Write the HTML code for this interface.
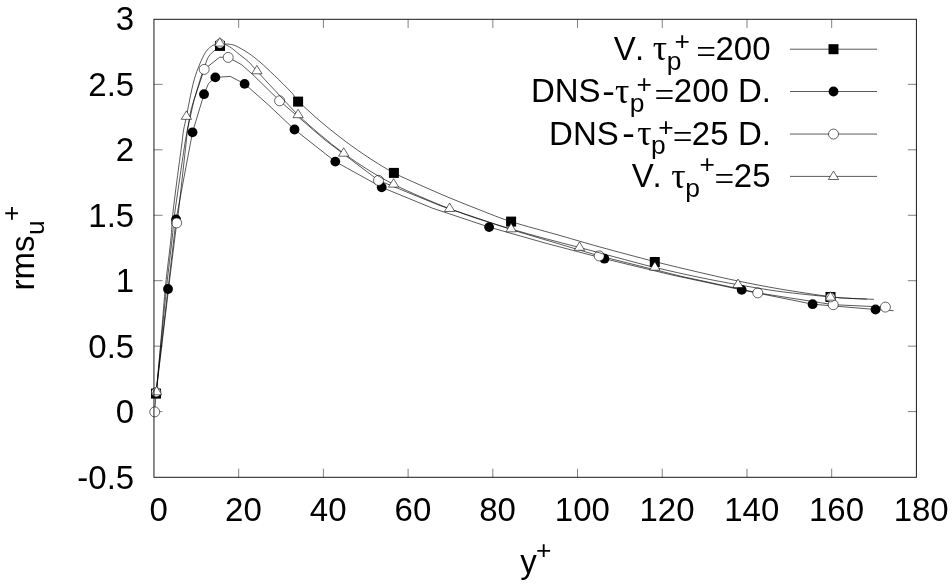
<!DOCTYPE html>
<html lang="en">
<head>
<meta charset="utf-8">
<title>rms u+ versus y+</title>
<style>
html,body{margin:0;padding:0;background:#fff;}
body{width:952px;height:585px;overflow:hidden;}
svg{display:block;filter:blur(0.25px);}
text{white-space:pre;font-kerning:none;}
</style>
</head>
<body>
<svg width="952" height="585" viewBox="0 0 952 585">
<rect x="0" y="0" width="952" height="585" fill="#fff"/>
<g stroke="#000" stroke-width="0.5" fill="none">
<path d="M153.95,411.60h8.6 M916.40,411.60h-8.6"/>
<path d="M153.95,346.15h8.6 M916.40,346.15h-8.6"/>
<path d="M153.95,280.70h8.6 M916.40,280.70h-8.6"/>
<path d="M153.95,215.25h8.6 M916.40,215.25h-8.6"/>
<path d="M153.95,149.80h8.6 M916.40,149.80h-8.6"/>
<path d="M153.95,84.35h8.6 M916.40,84.35h-8.6"/>
<path d="M238.67,477.30v-8.6 M238.67,19.30v8.6"/>
<path d="M323.38,477.30v-8.6 M323.38,19.30v8.6"/>
<path d="M408.10,477.30v-8.6 M408.10,19.30v8.6"/>
<path d="M492.82,477.30v-8.6 M492.82,19.30v8.6"/>
<path d="M577.53,477.30v-8.6 M577.53,19.30v8.6"/>
<path d="M662.25,477.30v-8.6 M662.25,19.30v8.6"/>
<path d="M746.97,477.30v-8.6 M746.97,19.30v8.6"/>
<path d="M831.68,477.30v-8.6 M831.68,19.30v8.6"/>
</g>
<g font-family='"Liberation Sans", Arial, Helvetica, sans-serif' font-size="33.0" fill="#000">
<text x="134.2" y="488.50" text-anchor="end">-0.5</text>
<text x="134.2" y="423.05" text-anchor="end">0</text>
<text x="134.2" y="357.60" text-anchor="end">0.5</text>
<text x="134.2" y="292.15" text-anchor="end">1</text>
<text x="134.2" y="226.70" text-anchor="end">1.5</text>
<text x="134.2" y="161.25" text-anchor="end">2</text>
<text x="134.2" y="95.80" text-anchor="end">2.5</text>
<text x="134.2" y="30.35" text-anchor="end">3</text>
<text x="158.75" y="520.7" text-anchor="middle">0</text>
<text x="243.47" y="520.7" text-anchor="middle">20</text>
<text x="328.18" y="520.7" text-anchor="middle">40</text>
<text x="412.90" y="520.7" text-anchor="middle">60</text>
<text x="497.62" y="520.7" text-anchor="middle">80</text>
<text x="582.33" y="520.7" text-anchor="middle">100</text>
<text x="667.05" y="520.7" text-anchor="middle">120</text>
<text x="751.77" y="520.7" text-anchor="middle">140</text>
<text x="836.48" y="520.7" text-anchor="middle">160</text>
<text x="921.20" y="520.7" text-anchor="middle">180</text>
</g>
<path d="M156.00,393.60 C156.56,388.00 158.29,370.60 159.34,360.00 C160.39,349.40 161.08,342.50 162.32,330.00 C163.56,317.50 165.19,300.00 166.80,285.00 C168.41,270.00 170.72,251.67 172.00,240.00 C173.28,228.33 173.25,225.00 174.50,215.00 C175.75,205.00 177.80,191.67 179.50,180.00 C181.20,168.33 183.38,153.33 184.70,145.00 C186.02,136.67 186.38,135.67 187.40,130.00 C188.42,124.33 189.70,116.00 190.80,111.00 C191.90,106.00 192.87,103.83 194.00,100.00 C195.13,96.17 196.30,92.27 197.60,88.00 C198.90,83.73 200.70,77.73 201.80,74.40 C202.90,71.07 203.35,70.40 204.20,68.00 C205.05,65.60 205.95,62.20 206.90,60.00 C207.85,57.80 208.55,56.45 209.90,54.80 C211.25,53.15 213.32,51.58 215.00,50.10 C216.68,48.62 218.33,46.90 220.00,45.90 C221.67,44.90 223.50,44.38 225.00,44.10 C226.50,43.82 227.23,43.92 229.00,44.20 C230.77,44.48 232.37,44.32 235.60,45.80 C238.83,47.28 244.33,50.38 248.40,53.10 C252.47,55.82 255.65,58.37 260.00,62.10 C264.35,65.83 269.28,70.47 274.50,75.50 C279.72,80.53 287.37,88.07 291.30,92.30 C295.23,96.53 293.32,96.12 298.10,100.90 C302.88,105.68 312.18,114.32 320.00,121.00 C327.82,127.68 336.67,134.75 345.00,141.00 C353.33,147.25 361.85,153.18 370.00,158.50 C378.15,163.82 385.57,168.48 393.90,172.90 C402.23,177.32 410.65,180.82 420.00,185.00 C429.35,189.18 440.00,193.83 450.00,198.00 C460.00,202.17 469.82,206.07 480.00,210.00 C490.18,213.93 497.77,217.35 511.10,221.60 C524.43,225.85 545.18,231.27 560.00,235.50 C574.82,239.73 584.20,242.65 600.00,247.00 C615.80,251.35 638.13,257.35 654.80,261.60 C671.47,265.85 686.13,269.27 700.00,272.50 C713.87,275.73 724.67,278.25 738.00,281.00 C751.33,283.75 764.58,286.38 780.00,289.00 C795.42,291.62 818.83,295.15 830.50,296.70 C842.17,298.25 842.77,297.86 850.00,298.30 C857.23,298.74 869.92,299.18 873.90,299.35" fill="none" stroke="#000" stroke-width="0.65" stroke-linejoin="round"/>
<rect x="151.00" y="388.60" width="10.0" height="10.0" fill="#000"/>
<rect x="215.00" y="40.90" width="10.0" height="10.0" fill="#000"/>
<rect x="293.10" y="96.60" width="10.0" height="10.0" fill="#000"/>
<rect x="388.90" y="167.90" width="10.0" height="10.0" fill="#000"/>
<rect x="506.10" y="216.60" width="10.0" height="10.0" fill="#000"/>
<rect x="649.80" y="257.00" width="10.0" height="10.0" fill="#000"/>
<rect x="825.50" y="292.00" width="10.0" height="10.0" fill="#000"/>
<path d="M156.00,393.00 L168.00,289.00 L176.10,219.50 L190.10,145.00 L192.50,132.30 L204.00,94.20 L208.50,83.50 L215.30,77.40 L230.30,76.40 L244.60,83.90 L268.00,104.50 L294.50,129.50 L335.30,161.60 L381.70,187.30 L432.00,208.00 L489.10,227.10 L545.00,243.00 L604.40,258.70 L672.00,275.00 L741.70,289.90 L812.60,304.20 L875.50,309.50 L893.60,310.70" fill="none" stroke="#000" stroke-width="0.65" stroke-linejoin="round"/>
<circle cx="168.00" cy="289.00" r="4.9" fill="#000"/>
<circle cx="176.10" cy="219.50" r="4.9" fill="#000"/>
<circle cx="192.50" cy="132.30" r="4.9" fill="#000"/>
<circle cx="204.00" cy="94.20" r="4.9" fill="#000"/>
<circle cx="215.30" cy="77.40" r="4.9" fill="#000"/>
<circle cx="244.60" cy="83.90" r="4.9" fill="#000"/>
<circle cx="294.50" cy="129.50" r="4.9" fill="#000"/>
<circle cx="335.30" cy="161.60" r="4.9" fill="#000"/>
<circle cx="381.70" cy="187.30" r="4.9" fill="#000"/>
<circle cx="489.10" cy="227.10" r="4.9" fill="#000"/>
<circle cx="604.40" cy="258.70" r="4.9" fill="#000"/>
<circle cx="741.70" cy="289.90" r="4.9" fill="#000"/>
<circle cx="812.60" cy="304.20" r="4.9" fill="#000"/>
<circle cx="875.50" cy="309.50" r="4.9" fill="#000"/>
<path d="M154.70,411.90 L156.20,392.20 L169.00,285.00 L176.70,222.90 L178.10,215.00 L185.90,145.00 L187.40,130.00 L194.00,100.00 L204.20,69.40 L219.70,57.20 L228.20,57.40 L241.50,64.60 L252.60,74.40 L279.60,100.80 L325.00,140.00 L378.50,180.40 L440.00,205.60 L515.00,230.80 L599.20,255.90 L680.00,276.00 L757.80,292.90 L833.20,304.70 L885.40,307.10" fill="none" stroke="#000" stroke-width="0.65" stroke-linejoin="round"/>
<circle cx="154.70" cy="411.90" r="5.0" fill="#fff" stroke="#000" stroke-width="0.6"/>
<circle cx="156.20" cy="392.20" r="4.7" fill="#fff" stroke="#000" stroke-width="0.6"/>
<circle cx="176.70" cy="222.90" r="5.0" fill="#fff" stroke="#000" stroke-width="0.6"/>
<circle cx="204.20" cy="69.40" r="5.0" fill="#fff" stroke="#000" stroke-width="0.6"/>
<circle cx="228.20" cy="57.40" r="5.0" fill="#fff" stroke="#000" stroke-width="0.6"/>
<circle cx="279.60" cy="100.80" r="5.0" fill="#fff" stroke="#000" stroke-width="0.6"/>
<circle cx="378.50" cy="180.40" r="5.0" fill="#fff" stroke="#000" stroke-width="0.6"/>
<circle cx="599.20" cy="255.90" r="5.0" fill="#fff" stroke="#000" stroke-width="0.6"/>
<circle cx="757.80" cy="292.90" r="5.0" fill="#fff" stroke="#000" stroke-width="0.6"/>
<circle cx="833.20" cy="304.70" r="5.0" fill="#fff" stroke="#000" stroke-width="0.6"/>
<circle cx="885.40" cy="307.10" r="5.0" fill="#fff" stroke="#000" stroke-width="0.6"/>
<path d="M156.60,392.00 C157.05,386.67 158.42,370.33 159.29,360.00 C160.16,349.67 160.76,342.50 161.81,330.00 C162.86,317.50 164.10,300.00 165.60,285.00 C167.10,270.00 169.62,251.67 170.80,240.00 C171.98,228.33 171.67,225.00 172.70,215.00 C173.73,205.00 175.50,191.67 177.00,180.00 C178.50,168.33 180.60,153.33 181.70,145.00 C182.80,136.67 182.80,134.75 183.60,130.00 C184.40,125.25 185.50,121.50 186.50,116.50 C187.50,111.50 188.33,106.08 189.60,100.00 C190.87,93.92 192.42,85.97 194.10,80.00 C195.78,74.03 197.78,68.83 199.70,64.20 C201.62,59.57 203.75,55.12 205.60,52.20 C207.45,49.28 209.23,47.98 210.80,46.70 C212.37,45.42 213.50,45.05 215.00,44.50 C216.50,43.95 218.13,43.40 219.80,43.40 C221.47,43.40 223.08,43.75 225.00,44.50 C226.92,45.25 228.83,46.18 231.30,47.90 C233.77,49.62 236.95,52.52 239.80,54.80 C242.65,57.08 245.55,58.90 248.40,61.60 C251.25,64.30 252.47,66.18 256.90,71.00 C261.33,75.82 268.13,83.18 275.00,90.50 C281.87,97.82 290.60,107.57 298.10,114.90 C305.60,122.23 312.40,128.08 320.00,134.50 C327.60,140.92 335.37,147.32 343.70,153.40 C352.03,159.48 361.68,165.85 370.00,171.00 C378.32,176.15 385.27,180.05 393.60,184.30 C401.93,188.55 410.67,192.43 420.00,196.50 C429.33,200.57 439.60,204.87 449.60,208.70 C459.60,212.53 469.75,216.12 480.00,219.50 C490.25,222.88 500.27,225.83 511.10,229.00 C521.93,232.17 533.60,235.42 545.00,238.50 C556.40,241.58 567.83,244.42 579.50,247.50 C591.17,250.58 602.45,253.68 615.00,257.00 C627.55,260.32 640.63,263.98 654.80,267.40 C668.97,270.82 686.13,274.62 700.00,277.50 C713.87,280.38 724.67,282.37 738.00,284.70 C751.33,287.03 764.58,289.45 780.00,291.50 C795.42,293.55 818.83,295.85 830.50,297.00 C842.17,298.15 843.93,298.05 850.00,298.40 C856.07,298.75 864.08,298.98 866.90,299.10" fill="none" stroke="#000" stroke-width="0.65" stroke-linejoin="round"/>
<circle cx="220.00" cy="43.60" r="4.6" fill="#fff" stroke="#000" stroke-width="0.6"/>
<circle cx="830.50" cy="297.30" r="4.6" fill="#fff" stroke="#000" stroke-width="0.6"/>
<polygon points="156.60,386.35 161.75,394.80 151.45,394.80" fill="#fff" stroke="#000" stroke-width="0.6" stroke-linejoin="miter"/>
<polygon points="186.40,110.90 191.55,119.35 181.25,119.35" fill="#fff" stroke="#000" stroke-width="0.6" stroke-linejoin="miter"/>
<polygon points="219.80,37.65 224.95,46.10 214.65,46.10" fill="#fff" stroke="#000" stroke-width="0.6" stroke-linejoin="miter"/>
<polygon points="256.90,65.35 262.05,73.80 251.75,73.80" fill="#fff" stroke="#000" stroke-width="0.6" stroke-linejoin="miter"/>
<polygon points="298.10,109.25 303.25,117.70 292.95,117.70" fill="#fff" stroke="#000" stroke-width="0.6" stroke-linejoin="miter"/>
<polygon points="343.70,147.75 348.85,156.20 338.55,156.20" fill="#fff" stroke="#000" stroke-width="0.6" stroke-linejoin="miter"/>
<polygon points="393.60,178.65 398.75,187.10 388.45,187.10" fill="#fff" stroke="#000" stroke-width="0.6" stroke-linejoin="miter"/>
<polygon points="449.60,203.05 454.75,211.50 444.45,211.50" fill="#fff" stroke="#000" stroke-width="0.6" stroke-linejoin="miter"/>
<polygon points="511.10,223.35 516.25,231.80 505.95,231.80" fill="#fff" stroke="#000" stroke-width="0.6" stroke-linejoin="miter"/>
<polygon points="579.50,241.85 584.65,250.30 574.35,250.30" fill="#fff" stroke="#000" stroke-width="0.6" stroke-linejoin="miter"/>
<polygon points="654.80,261.75 659.95,270.20 649.65,270.20" fill="#fff" stroke="#000" stroke-width="0.6" stroke-linejoin="miter"/>
<polygon points="738.00,279.05 743.15,287.50 732.85,287.50" fill="#fff" stroke="#000" stroke-width="0.6" stroke-linejoin="miter"/>
<polygon points="830.50,291.75 835.65,300.20 825.35,300.20" fill="#fff" stroke="#000" stroke-width="0.6" stroke-linejoin="miter"/>
<path d="M790.0,49.2H877.0" fill="none" stroke="#000" stroke-width="0.65" stroke-linejoin="round"/>
<path d="M790.0,91.5H877.0" fill="none" stroke="#000" stroke-width="0.65" stroke-linejoin="round"/>
<path d="M790.0,134.05H877.0" fill="none" stroke="#000" stroke-width="0.65" stroke-linejoin="round"/>
<path d="M790.0,176.4H877.0" fill="none" stroke="#000" stroke-width="0.65" stroke-linejoin="round"/>
<rect x="828.50" y="44.20" width="10.0" height="10.0" fill="#000"/>
<circle cx="833.50" cy="91.50" r="4.9" fill="#000"/>
<circle cx="833.50" cy="134.05" r="5.0" fill="#fff" stroke="#000" stroke-width="0.6"/>
<polygon points="833.50,171.05 838.65,179.50 828.35,179.50" fill="#fff" stroke="#000" stroke-width="0.6" stroke-linejoin="miter"/>
<rect x="153.95" y="19.30" width="762.45" height="458.00" fill="none" stroke="#000" stroke-opacity="0.9" stroke-width="1.0"/>
<text fill="#000"><tspan x="613.65" y="59.60" font-family='"Liberation Sans", Arial, Helvetica, sans-serif' font-size="33.00">V</tspan><tspan x="634.89" y="59.60" font-family='"Liberation Sans", Arial, Helvetica, sans-serif' font-size="33.00">. </tspan><tspan x="652.82" y="60.40" font-family='"Liberation Serif", "DejaVu Serif", serif' font-size="35.64">τ</tspan><tspan x="666.80" y="69.60" font-family='"Liberation Sans", Arial, Helvetica, sans-serif' font-size="26.40">p</tspan><tspan x="674.51" y="50.20" font-family='"Liberation Sans", Arial, Helvetica, sans-serif' font-size="26.40">+ </tspan><tspan x="696.16" y="64.10" font-family='"Liberation Serif", "DejaVu Serif", serif' font-size="35.00">=</tspan><tspan x="715.44" y="59.60" font-family='"Liberation Sans", Arial, Helvetica, sans-serif' font-size="33.00">200</tspan></text>
<text fill="#000"><tspan x="530.89" y="102.00" font-family='"Liberation Sans", Arial, Helvetica, sans-serif' font-size="33.00">DNS </tspan><tspan x="602.46" y="101.90" font-family='"Liberation Serif", "DejaVu Serif", serif' font-size="36.00">-</tspan><tspan x="615.12" y="102.80" font-family='"Liberation Serif", "DejaVu Serif", serif' font-size="35.64">τ</tspan><tspan x="629.70" y="111.80" font-family='"Liberation Sans", Arial, Helvetica, sans-serif' font-size="26.40">p</tspan><tspan x="636.51" y="93.10" font-family='"Liberation Sans", Arial, Helvetica, sans-serif' font-size="26.40">+</tspan><tspan x="654.56" y="106.50" font-family='"Liberation Serif", "DejaVu Serif", serif' font-size="35.00">=</tspan><tspan x="673.84" y="102.00" font-family='"Liberation Sans", Arial, Helvetica, sans-serif' font-size="33.00">200 </tspan><tspan x="737.89" y="102.00" font-family='"Liberation Sans", Arial, Helvetica, sans-serif' font-size="33.00">D.</tspan></text>
<text fill="#000"><tspan x="549.09" y="144.50" font-family='"Liberation Sans", Arial, Helvetica, sans-serif' font-size="33.00">DNS </tspan><tspan x="622.46" y="144.40" font-family='"Liberation Serif", "DejaVu Serif", serif' font-size="36.00">-</tspan><tspan x="637.32" y="145.30" font-family='"Liberation Serif", "DejaVu Serif", serif' font-size="35.64">τ</tspan><tspan x="651.10" y="154.10" font-family='"Liberation Sans", Arial, Helvetica, sans-serif' font-size="26.40">p</tspan><tspan x="658.31" y="135.80" font-family='"Liberation Sans", Arial, Helvetica, sans-serif' font-size="26.40">+</tspan><tspan x="672.76" y="149.00" font-family='"Liberation Serif", "DejaVu Serif", serif' font-size="35.00">=</tspan><tspan x="691.84" y="144.50" font-family='"Liberation Sans", Arial, Helvetica, sans-serif' font-size="33.00">25 </tspan><tspan x="737.89" y="144.50" font-family='"Liberation Sans", Arial, Helvetica, sans-serif' font-size="33.00">D.</tspan></text>
<text fill="#000"><tspan x="631.75" y="186.90" font-family='"Liberation Sans", Arial, Helvetica, sans-serif' font-size="33.00">V</tspan><tspan x="652.59" y="186.90" font-family='"Liberation Sans", Arial, Helvetica, sans-serif' font-size="33.00">. </tspan><tspan x="671.22" y="187.70" font-family='"Liberation Serif", "DejaVu Serif", serif' font-size="35.64">τ</tspan><tspan x="685.30" y="196.90" font-family='"Liberation Sans", Arial, Helvetica, sans-serif' font-size="26.40">p </tspan><tspan x="699.51" y="173.20" font-family='"Liberation Sans", Arial, Helvetica, sans-serif' font-size="26.40">+</tspan><tspan x="714.46" y="191.40" font-family='"Liberation Serif", "DejaVu Serif", serif' font-size="35.00">=</tspan><tspan x="733.84" y="186.90" font-family='"Liberation Sans", Arial, Helvetica, sans-serif' font-size="33.00">25</tspan></text>
<text fill="#000"><tspan x="520.22" y="572.90" font-family='"Liberation Sans", Arial, Helvetica, sans-serif' font-size="33.00">y</tspan><tspan x="536.01" y="559.10" font-family='"Liberation Sans", Arial, Helvetica, sans-serif' font-size="26.40">+</tspan></text>
<text fill="#000" transform="translate(34.1,288.2) rotate(-90)"><tspan x="-2.19" y="0.00" font-family='"Liberation Sans", Arial, Helvetica, sans-serif' font-size="33.00">rms</tspan><tspan x="53.19" y="9.70" font-family='"Liberation Sans", Arial, Helvetica, sans-serif' font-size="26.40">u</tspan><tspan x="67.21" y="-14.30" font-family='"Liberation Sans", Arial, Helvetica, sans-serif' font-size="26.40">+</tspan></text>
</svg>
</body>
</html>
